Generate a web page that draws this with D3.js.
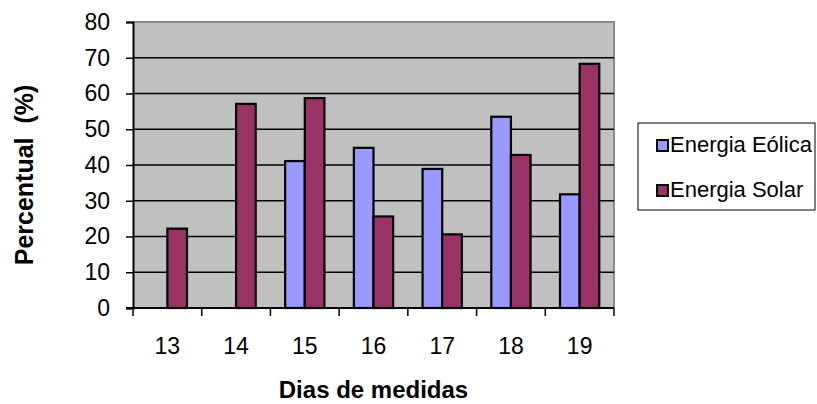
<!DOCTYPE html>
<html>
<head>
<meta charset="utf-8">
<script src="https://cdn.jsdelivr.net/npm/d3@7"></script>
<style>
  html, body { margin: 0; padding: 0; background: #ffffff; }
  svg { display: block; font-family: "Liberation Sans", Arial, sans-serif; }
</style>
</head>
<body>
<svg id="chart" width="817" height="404"></svg>
<script>
// Days of measurement (categories)
const days = ["13", "14", "15", "16", "17", "18", "19"];
// Series names
const seriesNames = ["Energia Eólica", "Energia Solar"];
// Percent values per day (null = no measurement)
const eolica = [null, null, 41.1, 44.8, 38.9, 53.5, 31.8];
const solar  = [22.2, 57.1, 58.7, 25.6, 20.6, 42.8, 68.3];
// Y axis ticks
const yTicks = [0, 10, 20, 30, 40, 50, 60, 70, 80];

const colors = { "Energia Eólica": "#9999ff", "Energia Solar": "#993366" };

const svg = d3.select("#chart");
const plot = { left: 133, right: 614, top: 22, bottom: 308 };

const x0 = d3.scaleBand().domain(days).range([plot.left, plot.right]).paddingInner(0).paddingOuter(0);
const x1 = d3.scaleBand().domain(seriesNames).range([0, x0.bandwidth()]).paddingInner(0).paddingOuter(0.75);
const y = d3.scaleLinear().domain([0, 80]).range([plot.bottom, plot.top]);

// Plot area background
svg.append("rect")
  .attr("x", plot.left).attr("y", plot.top)
  .attr("width", plot.right - plot.left).attr("height", plot.bottom - plot.top)
  .attr("fill", "#c0c0c0");

// Gray frame on top and right
svg.append("path")
  .attr("d", `M${plot.left},${plot.top}H${plot.right}V${plot.bottom}`)
  .attr("fill", "none").attr("stroke", "#8c8c8c").attr("stroke-width", 2);

// Horizontal gridlines
svg.append("g").selectAll("line")
  .data(yTicks.filter(t => t > 0 && t < 80))
  .join("line")
  .attr("x1", plot.left).attr("x2", plot.right)
  .attr("y1", d => y(d)).attr("y2", d => y(d))
  .attr("stroke", "#000").attr("stroke-width", 1.5);

// Bars
const rows = days.map((d, i) => ({ day: d, values: [
  { name: seriesNames[0], v: eolica[i] },
  { name: seriesNames[1], v: solar[i] }
]}));

const groups = svg.append("g").selectAll("g")
  .data(rows).join("g")
  .attr("transform", d => `translate(${x0(d.day)},0)`);

groups.selectAll("rect")
  .data(d => d.values.filter(v => v.v != null))
  .join("rect")
  .attr("x", d => x1(d.name))
  .attr("width", x1.bandwidth())
  .attr("y", d => y(d.v))
  .attr("height", d => y(0) - y(d.v))
  .attr("fill", d => colors[d.name])
  .attr("stroke", "#000").attr("stroke-width", 2.2);

// Y axis
const yAxis = d3.axisLeft(y).tickValues(yTicks).tickSize(7).tickPadding(16).tickFormat(d3.format("d"));
const gy = svg.append("g").attr("transform", `translate(${plot.left},0)`).call(yAxis);
gy.select(".domain").attr("stroke", "#000").attr("stroke-width", 2);
gy.selectAll(".tick line").attr("stroke", "#000").attr("stroke-width", 1.5);
gy.selectAll(".tick text").attr("font-size", 23).attr("fill", "#000")
  .attr("font-family", "Liberation Sans, Arial, sans-serif");

// X axis with tick marks at band boundaries
const xAxis = d3.axisBottom(x0).tickSize(0).tickPadding(30);
const gx = svg.append("g").attr("transform", `translate(0,${plot.bottom})`).call(xAxis);
gx.select(".domain").remove();
gx.selectAll(".tick text").attr("font-size", 23).attr("fill", "#000")
  .attr("font-family", "Liberation Sans, Arial, sans-serif");
svg.append("line")
  .attr("x1", plot.left - 7).attr("x2", plot.right)
  .attr("y1", plot.bottom).attr("y2", plot.bottom)
  .attr("stroke", "#000").attr("stroke-width", 2);
const boundaries = days.map(d => x0(d)).concat([x0(days[days.length - 1]) + x0.bandwidth()]);
svg.append("g").selectAll("line")
  .data(boundaries).join("line")
  .attr("x1", d => d).attr("x2", d => d)
  .attr("y1", plot.bottom).attr("y2", plot.bottom + 8)
  .attr("stroke", "#000").attr("stroke-width", 1.5);

// Axis titles
svg.append("text")
  .attr("x", (plot.left + plot.right) / 2).attr("y", 398)
  .attr("text-anchor", "middle")
  .attr("font-size", 24).attr("font-weight", "bold")
  .text("Dias de medidas");

svg.append("text")
  .attr("transform", `translate(33,${(plot.top + plot.bottom) / 2 + 10}) rotate(-90)`)
  .attr("text-anchor", "middle")
  .attr("font-size", 25).attr("font-weight", "bold")
  .attr("xml:space", "preserve")
  .text("Percentual  (%)");

// Legend
const legend = svg.append("g");
legend.append("rect")
  .attr("x", 638).attr("y", 123).attr("width", 177).attr("height", 87)
  .attr("fill", "#fff").attr("stroke", "#000").attr("stroke-width", 1);
const items = legend.selectAll("g.item")
  .data(seriesNames).join("g").attr("class", "item")
  .attr("transform", (d, i) => `translate(657,${140 + i * 45})`);
items.append("rect")
  .attr("x", 0).attr("y", 0).attr("width", 11).attr("height", 11)
  .attr("fill", d => colors[d]).attr("stroke", "#000").attr("stroke-width", 2);
items.append("text")
  .attr("x", 13).attr("y", 12)
  .attr("font-size", 22)
  .text(d => d);
</script>
</body>
</html>
